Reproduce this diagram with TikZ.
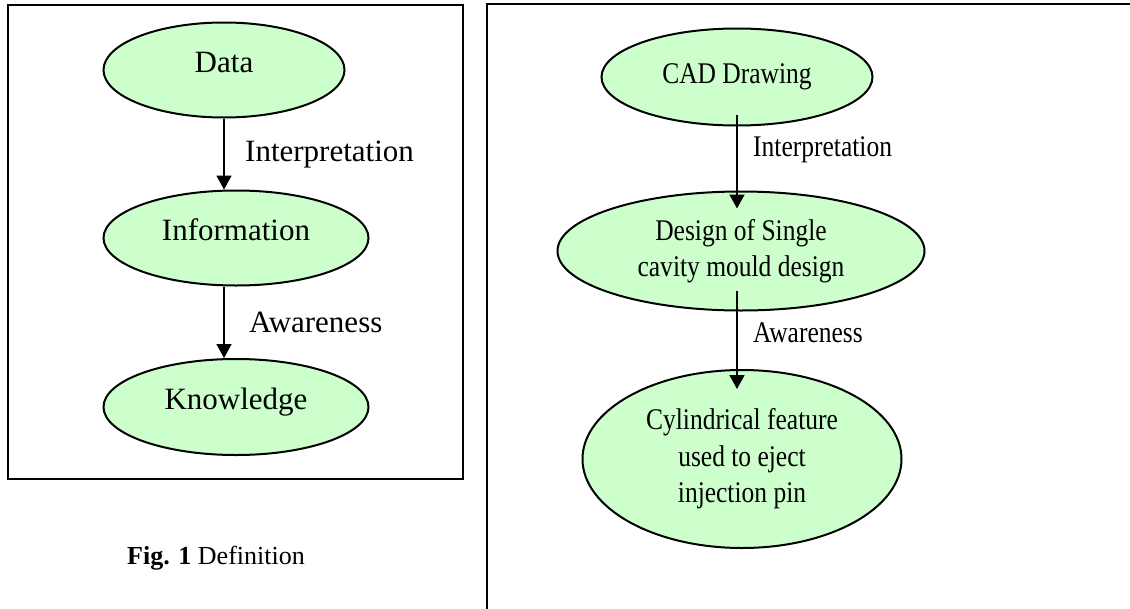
\documentclass[tikz,border=0pt]{standalone}
\usepackage{fontspec}
\setmainfont{Liberation Serif}
\newfontfamily\slimserif[FakeStretch=0.85]{Liberation Serif}
\usepackage{tikz}
\usetikzlibrary{shapes.geometric,arrows.meta}
\definecolor{paleGreen}{RGB}{204,255,204}
\tikzset{
 blob/.style={ellipse,draw,line width=2pt,fill=paleGreen,inner sep=0pt,align=center},
 flow/.style={line width=1.8pt,-{Triangle[length=14pt,width=15pt]}},
 tag/.style={anchor=west,inner sep=0pt},
 wide/.style={font=\fontsize{31}{36}\selectfont},
 slim/.style={font=\slimserif\fontsize{30}{36.5}\selectfont},
}

\begin{document}
\begin{tikzpicture}[x=1pt,y=-1pt]
 \useasboundingbox (0,0) rectangle (1130,608);
 \clip (0,0) rectangle (1130,608);
 % left panel
 \draw[line width=2.2pt] (8,5) rectangle (463,479);
 \node[blob,wide,text height=0.7em,text depth=0.3em,minimum width=241pt,minimum height=95pt] (data) at (224,70) {Data};
 \node[blob,wide,text height=0.7em,text depth=0.3em,minimum width=265pt,minimum height=95pt] (info) at (236,238) {Information};
 \node[blob,wide,text height=0.7em,text depth=0.3em,minimum width=265pt,minimum height=96pt] (know) at (236,407) {Knowledge};
 \draw[flow] (data.south) -- (data.south |- info.north);
 \draw[flow] (data.south |- info.south) -- (data.south |- know.north);
 \node[tag,wide] (interpL) at (245,155) {Interpretation};
 \node[tag,wide] (awareL) at (249,322) {Awareness};
 \node[font=\fontsize{26}{30}\selectfont] (caption) at (216,558) {\textbf{Fig. 1} Definition};
 % right panel
 \draw[line width=2.5pt] (487,620) -- (487,4) -- (1140,4);
 \node[blob,slim,minimum width=271pt,minimum height=97pt] (cad) at (737,77) {CAD Drawing};
 \node[blob,slim,minimum width=367pt,minimum height=119pt] (mould) at (741,251) {Design of Single\\cavity mould design};
 \node[blob,slim,minimum width=319pt,minimum height=178pt] (cyl) at (742,459) {Cylindrical feature\\used to eject\\injection pin};
 \draw[flow] ([yshift=12pt]cad.south) -- ([yshift=-18pt]cad.south |- mould.north);
 \draw[flow] ([yshift=21pt]cad.south |- mould.south) -- ([yshift=-20pt]cad.south |- cyl.north);
 \node[tag,slim] (interpR) at (753,150) {Interpretation};
 \node[tag,slim] (awareR) at (753,333) {Awareness};
\end{tikzpicture}
\end{document}
